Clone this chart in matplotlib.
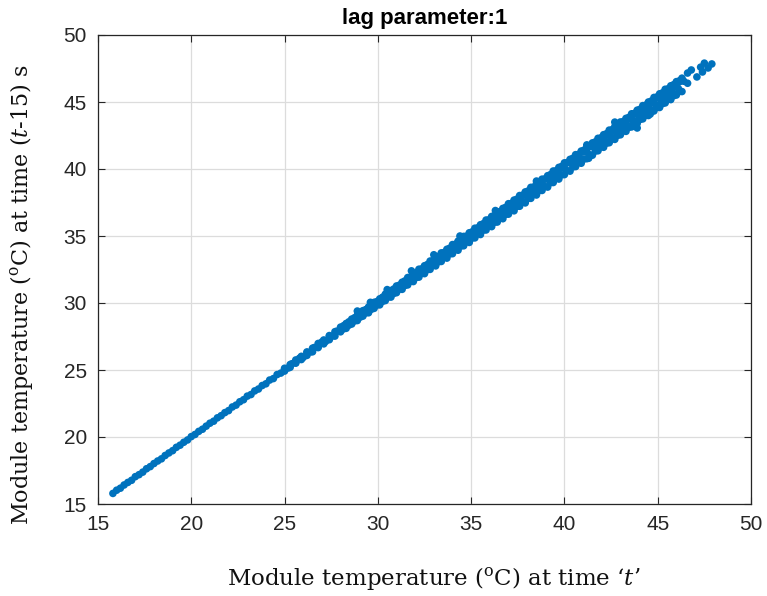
import numpy as np
import matplotlib
matplotlib.use("Agg")
import matplotlib.pyplot as plt

# ---- data: module temperature at time t vs. at time t-15 s ----
core_t = [15.8, 16.0, 16.2, 16.4, 16.6, 16.8, 17.0, 17.2, 17.4, 17.6, 17.8, 18.0, 18.2, 18.4, 18.6, 18.8,
          19.0, 19.2, 19.4, 19.6, 19.8, 20.0, 20.2, 20.4, 20.6, 20.8, 21.0, 21.2, 21.4, 21.6, 21.8, 22.0,
          22.2, 22.4, 22.6, 22.8, 23.0, 23.2, 23.4, 23.6, 23.8, 24.0, 24.2, 24.4, 24.6, 24.8, 25.0, 25.2,
          25.4, 25.6, 25.8, 26.0, 26.2, 26.4, 26.6, 26.8, 27.0, 27.2, 27.4, 27.6, 27.8, 28.0, 28.2, 28.4,
          28.6, 28.8, 29.0, 29.2, 29.4, 29.6, 29.8, 30.0, 30.2, 30.4, 30.6, 30.8, 31.0, 31.2, 31.4, 31.6,
          31.8, 32.0, 32.2, 32.4, 32.6, 32.8, 33.0, 33.2, 33.4, 33.6, 33.8, 34.0, 34.2, 34.4, 34.6, 34.8,
          35.0, 35.2, 35.4, 35.6, 35.8, 36.0, 36.2, 36.4, 36.6, 36.8, 37.0, 37.2, 37.4, 37.6, 37.8, 38.0,
          38.2, 38.4, 38.6, 38.8, 39.0, 39.2, 39.4, 39.6, 39.8, 40.0, 40.2, 40.4, 40.6, 40.8, 41.0, 41.2,
          41.4, 41.6, 41.8, 42.0, 42.2, 42.4, 42.6, 42.8, 43.0, 43.2, 43.4, 43.6, 43.8, 44.0, 44.2, 44.4,
          44.6, 44.8, 45.0, 45.2, 45.4, 45.6, 45.8, 46.0, 46.2, 46.4]
core_lag = [15.79, 16.03, 16.18, 16.42, 16.61, 16.77, 17.04, 17.19, 17.38, 17.63, 17.79, 18.02, 18.21, 18.37, 18.62, 18.81,
            18.98, 19.23, 19.39, 19.61, 19.78, 20.03, 20.19, 20.42, 20.58, 20.81, 21.03, 21.18, 21.43, 21.59, 21.82, 21.97,
            22.24, 22.38, 22.63, 22.78, 23.05, 23.17, 23.44, 23.58, 23.84, 23.97, 24.25, 24.36, 24.66, 24.77, 25.06, 25.15,
            25.47, 25.56, 25.88, 25.94, 26.29, 26.35, 26.68, 26.74, 27.09, 27.13, 27.51, 27.55, 27.90, 27.93, 28.31, 28.34,
            28.72, 28.73, 29.12, 29.14, 29.53, 29.55, 29.93, 29.96, 30.34, 30.36, 30.74, 30.77, 31.15, 31.16, 31.55, 31.57,
            31.96, 31.97, 32.37, 32.38, 32.77, 32.78, 33.18, 33.19, 33.58, 33.60, 33.99, 34.00, 34.39, 34.41, 34.80, 34.81,
            35.20, 35.22, 35.61, 35.62, 36.01, 36.03, 36.42, 36.43, 36.82, 36.84, 37.23, 37.24, 37.63, 37.65, 38.04, 38.05,
            38.44, 38.46, 38.85, 38.86, 39.25, 39.27, 39.66, 39.67, 40.06, 40.08, 40.47, 40.48, 40.87, 40.89, 41.28, 41.29,
            41.68, 41.70, 42.09, 42.10, 42.49, 42.51, 42.90, 42.91, 43.30, 43.32, 43.71, 43.72, 44.11, 44.13, 44.52, 44.53,
            44.92, 44.94, 45.33, 45.34, 45.73, 45.75, 46.14, 46.15, 46.54, 46.55]

edge_t = [25.0, 25.3, 25.6, 25.9, 26.2, 26.5, 26.8, 27.1, 27.4, 27.7, 28.0, 28.3, 28.6, 28.9, 29.2, 29.5,
          29.8, 30.1, 30.4, 30.7, 31.0, 31.3, 31.6, 31.9, 32.2, 32.5, 32.8, 33.1, 33.4, 33.7, 34.0, 34.3,
          34.6, 34.9, 35.2, 35.5, 35.8, 36.1, 36.4, 36.7, 37.0, 37.3, 37.6, 37.9, 38.2, 38.5, 38.8, 39.1,
          39.4, 39.7, 40.0, 40.3, 40.6, 40.9, 41.2, 41.5, 41.8, 42.1, 42.4, 42.7, 43.0, 43.3, 43.6, 43.9,
          44.2, 44.5, 44.8, 45.1, 45.4, 45.7, 46.0, 46.3]
edge_lag_hi = [25.13, 25.41, 25.75, 26.02, 26.35, 26.63, 26.98, 27.24, 27.57, 27.86, 28.20, 28.47, 28.80, 29.09, 29.43, 29.70,
               30.05, 30.31, 30.66, 30.93, 31.27, 31.55, 31.90, 32.16, 32.52, 32.78, 33.13, 33.40, 33.74, 34.01, 34.36, 34.62,
               34.97, 35.24, 35.58, 35.84, 36.19, 36.46, 36.80, 37.06, 37.41, 37.68, 38.02, 38.29, 38.63, 38.90, 39.24, 39.50,
               39.85, 40.12, 40.46, 40.72, 41.07, 41.34, 41.68, 41.95, 42.29, 42.56, 42.90, 43.17, 43.51, 43.78, 44.12, 44.39,
               44.73, 45.00, 45.34, 45.61, 45.95, 46.21, 46.52, 46.78]
edge_lag_lo = [24.92, 25.20, 25.51, 25.78, 26.09, 26.36, 26.67, 26.95, 27.26, 27.53, 27.85, 28.11, 28.43, 28.69, 29.02, 29.27,
               29.60, 29.86, 30.18, 30.44, 30.77, 31.02, 31.35, 31.60, 31.93, 32.19, 32.51, 32.77, 33.10, 33.35, 33.68, 33.94,
               34.27, 34.52, 34.86, 35.11, 35.45, 35.70, 36.04, 36.29, 36.63, 36.88, 37.22, 37.47, 37.81, 38.06, 38.40, 38.65,
               38.99, 39.25, 39.58, 39.84, 40.18, 40.43, 40.77, 41.03, 41.36, 41.62, 41.96, 42.21, 42.55, 42.81, 43.14, 43.40,
               43.74, 43.99, 44.33, 44.59, 44.93, 45.18, 45.52, 45.78]

inner_t = [28.15, 28.45, 28.75, 29.05, 29.35, 29.65, 29.95, 30.25, 30.55, 30.85, 31.15, 31.45, 31.75, 32.05, 32.35, 32.65,
           32.95, 33.25, 33.55, 33.85, 34.15, 34.45, 34.75, 35.05, 35.35, 35.65, 35.95, 36.25, 36.55, 36.85, 37.15, 37.45,
           37.75, 38.05, 38.35, 38.65, 38.95, 39.25, 39.55, 39.85, 40.15, 40.45, 40.75, 41.05, 41.35, 41.65, 41.95, 42.25,
           42.55, 42.85, 43.15, 43.45, 43.75, 44.05, 44.35, 44.65, 44.95, 45.25, 45.55, 45.85, 46.15]
inner_lag_hi = [28.29, 28.60, 28.90, 29.21, 29.50, 29.82, 30.11, 30.43, 30.72, 31.04, 31.33, 31.65, 31.94, 32.26, 32.55, 32.87,
                33.16, 33.48, 33.77, 34.09, 34.38, 34.70, 34.99, 35.31, 35.60, 35.92, 36.21, 36.53, 36.82, 37.14, 37.43, 37.75,
                38.04, 38.36, 38.65, 38.97, 39.26, 39.58, 39.87, 40.19, 40.48, 40.80, 41.09, 41.41, 41.70, 42.02, 42.31, 42.63,
                42.92, 43.24, 43.53, 43.85, 44.14, 44.46, 44.75, 45.07, 45.36, 45.68, 45.97, 46.29, 46.57]
inner_lag_lo = [28.06, 28.35, 28.66, 28.94, 29.26, 29.53, 29.85, 30.12, 30.44, 30.71, 31.03, 31.30, 31.62, 31.89, 32.21, 32.48,
                32.80, 33.07, 33.39, 33.66, 33.98, 34.25, 34.57, 34.84, 35.16, 35.43, 35.75, 36.02, 36.34, 36.61, 36.93, 37.20,
                37.52, 37.79, 38.11, 38.38, 38.70, 38.97, 39.29, 39.56, 39.88, 40.15, 40.47, 40.74, 41.06, 41.33, 41.65, 41.92,
                42.24, 42.51, 42.83, 43.10, 43.42, 43.69, 44.01, 44.28, 44.60, 44.87, 45.19, 45.46, 45.78]

# extra readings in the hottest, widest part of the cloud
hot_t = [41.9, 42.2, 42.5, 42.8, 43.1, 43.4, 43.7, 44.0, 44.3, 44.6, 44.9, 45.2, 45.5, 45.8, 46.1,
         42.0, 42.3, 42.6, 42.9, 43.2, 43.5, 43.8, 44.1, 44.4, 44.7, 45.0, 45.3, 45.6, 45.9, 46.2]
hot_lag = [41.75, 42.02, 42.36, 42.63, 42.97, 43.24, 43.58, 43.85, 44.19, 44.46, 44.80, 45.07, 45.41, 45.68, 46.02,
           42.34, 42.61, 42.95, 43.22, 43.56, 43.83, 44.17, 44.44, 44.78, 45.05, 45.39, 45.66, 46.00, 46.27, 46.58]

stray_t = [28.9, 29.6, 30.5, 31.8, 33.0, 34.4, 36.3, 38.5, 41.2, 42.7, 43.9, 41.3, 44.6,
           46.6, 46.8, 46.6, 47.1, 47.3, 47.5, 47.4, 47.7, 47.9]
stray_lag = [29.40, 30.05, 31.00, 32.40, 33.60, 35.00, 36.90, 39.10, 41.80, 43.50, 43.06, 40.80, 44.10,
             47.16, 47.39, 46.40, 46.87, 47.60, 47.90, 47.24, 47.54, 47.84]

x_ticks = [15, 20, 25, 30, 35, 40, 45, 50]
y_ticks = [15, 20, 25, 30, 35, 40, 45, 50]

temp_t = np.concatenate([core_t, edge_t, edge_t, inner_t, inner_t, hot_t, stray_t])
temp_lag = np.concatenate([core_lag, edge_lag_hi, edge_lag_lo, inner_lag_hi, inner_lag_lo, hot_lag, stray_lag])

# ---- figure ----
plt.rcParams["font.family"] = ["Liberation Sans", "DejaVu Sans"]
plt.rcParams["mathtext.fontset"] = "dejavuserif"

fig = plt.figure(figsize=(7.67, 5.96), dpi=100)
ax = fig.add_axes([98 / 767, 1 - 504 / 596, 653 / 767, 469 / 596])

ax.scatter(temp_t, temp_lag, s=30, color="#0072BD", edgecolors="none", zorder=3)

ax.set_xlim(15, 50)
ax.set_ylim(15, 50)
ax.set_xticks(x_ticks)
ax.set_yticks(y_ticks)

axis_col = "#262626"
ax.grid(True, color="#dcdcdc", linewidth=0.9, zorder=0)
ax.set_axisbelow(True)
for sp in ax.spines.values():
    sp.set_color(axis_col)
    sp.set_linewidth(0.9)
ax.tick_params(direction="in", top=True, right=True, length=5, width=0.8,
               labelsize=15, colors=axis_col, pad=8)

ax.set_title("lag parameter:1", fontsize=16, fontweight="bold", color="black", pad=8)

serif = ["DejaVu Serif"]
ax.set_xlabel("Module temperature ($^{\\mathrm{o}}$C) at time \u2018$\\mathit{t}$\u2019",
              family=serif, fontsize=16.5, color="#111111", va="center")
ax.xaxis.set_label_coords((434 - 98) / 653, (504 - 578) / 469)
ax.set_ylabel("Module temperature ($^{\\mathrm{o}}$C) at time ($\\mathit{t}$-$\\mathit{15}$) s",
              family=serif, fontsize=16, color="#111111", va="center")
ax.yaxis.set_label_coords((22 - 98) / 653, (504 - 295) / 469)

fig.savefig("out.png", dpi=100, facecolor="white")
